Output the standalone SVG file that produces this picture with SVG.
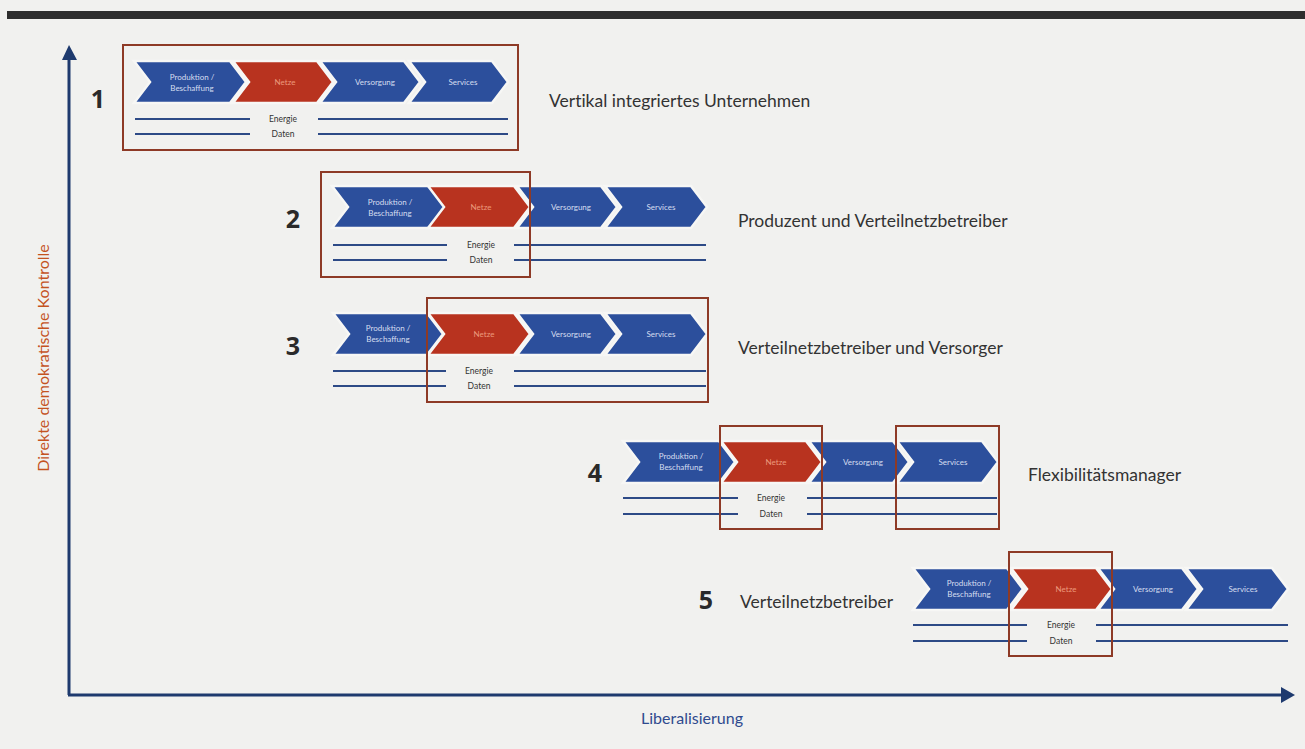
<svg xmlns="http://www.w3.org/2000/svg" width="1305" height="749" viewBox="0 0 1305 749">
<defs>
<style>
.bg{fill:#f1f1ef}
.cb{fill:#2c4f9c;stroke:#f7f7f5;stroke-width:2.5;stroke-linejoin:miter}
.cr{fill:#b8331f;stroke:#f7f7f5;stroke-width:2.5;stroke-linejoin:miter}
.ct{font-family:Lato,"Liberation Sans",sans-serif;font-size:8px;fill:#d6def0;text-anchor:middle}
.cn{font-family:Lato,"Liberation Sans",sans-serif;font-size:8px;fill:#ec9a7c;text-anchor:middle}
.ln{stroke:#2d4a86;stroke-width:2;fill:none}
.lt{font-family:Lato,"Liberation Sans",sans-serif;font-size:8.5px;fill:#333;text-anchor:middle}
.fr{fill:none;stroke:#8e3a26;stroke-width:2}
.num{font-family:"Open Sans","Liberation Sans",sans-serif;font-weight:bold;font-size:25px;fill:#2a2a2a;text-anchor:middle}
.ttl{font-family:Lato,"Liberation Sans",sans-serif;font-size:17.5px;fill:#333;font-variant-ligatures:none}
.ax{stroke:#1e3a6e;stroke-width:3;fill:none}
.axh{fill:#1e3a6e}
</style>
</defs>
<rect class="bg" x="0" y="0" width="1305" height="749"/>
<rect x="7" y="11" width="1298" height="8" fill="#2e2e2e"/>

<g id="axes">
<line class="ax" x1="69" y1="58" x2="69" y2="695"/>
<polygon class="axh" points="69,45 62,60 77,60"/>
<line class="ax" x1="68" y1="695" x2="1283" y2="695"/>
<polygon class="axh" points="1295,695 1281,687 1281,703"/>
<text x="49" y="358" transform="rotate(-90 49 358)" font-family="Lato,'Liberation Sans',sans-serif" font-size="16" fill="#c4531f" text-anchor="middle">Direkte demokratische Kontrolle</text>
<text x="692" y="724" font-family="Lato,'Liberation Sans',sans-serif" font-size="16" fill="#2f4a8e" text-anchor="middle">Liberalisierung</text>
</g>

<g id="row1">
<polygon class="cb" points="134,61 230,61 246,82 230,103 134,103 150,82"/>
<polygon class="cr" points="233,61 317,61 333,82 317,103 233,103 249,82"/>
<polygon class="cb" points="320,61 404,61 420,82 404,103 320,103 336,82"/>
<polygon class="cb" points="409,61 492,61 508,82 492,103 409,103 425,82"/>
<text class="ct" x="192" y="80">Produktion /</text>
<text class="ct" x="192" y="91">Beschaffung</text>
<text class="cn" x="285" y="85">Netze</text>
<text class="ct" x="375" y="85">Versorgung</text>
<text class="ct" x="463" y="85">Services</text>
<line class="ln" x1="135" y1="119" x2="250" y2="119"/>
<line class="ln" x1="318" y1="119" x2="508" y2="119"/>
<line class="ln" x1="135" y1="134" x2="250" y2="134"/>
<line class="ln" x1="318" y1="134" x2="508" y2="134"/>
<text class="lt" x="283" y="122">Energie</text>
<text class="lt" x="283" y="137">Daten</text>
<rect class="fr" x="123" y="45" width="395" height="105"/>
<text class="num" x="98" y="108">1</text>
<text class="ttl" x="549" y="107">Vertikal integriertes Unternehmen</text>
</g>

<g id="row2">
<polygon class="cb" points="332,186 430,186 446,207 430,228 332,228 348,207"/>
<polygon class="cr" points="428,186 514,186 530,207 514,228 428,228 444,207"/>
<polygon class="cb" points="517,186 601,186 617,207 601,228 517,228 533,207"/>
<polygon class="cb" points="605,186 691,186 707,207 691,228 605,228 621,207"/>
<text class="ct" x="390" y="205">Produktion /</text>
<text class="ct" x="390" y="216">Beschaffung</text>
<text class="cn" x="481" y="210">Netze</text>
<text class="ct" x="571" y="210">Versorgung</text>
<text class="ct" x="661" y="210">Services</text>
<line class="ln" x1="333" y1="245" x2="447" y2="245"/>
<line class="ln" x1="514" y1="245" x2="706" y2="245"/>
<line class="ln" x1="333" y1="260" x2="447" y2="260"/>
<line class="ln" x1="514" y1="260" x2="706" y2="260"/>
<text class="lt" x="481" y="248">Energie</text>
<text class="lt" x="481" y="263">Daten</text>
<rect class="fr" x="321" y="172" width="209" height="105"/>
<text class="num" x="293" y="228">2</text>
<text class="ttl" x="738" y="227">Produzent und Verteilnetzbetreiber</text>
</g>

<g id="row3">
<polygon class="cb" points="333,313 427,313 443,334 427,355 333,355 349,334"/>
<polygon class="cr" points="428,313 514,313 530,334 514,355 428,355 444,334"/>
<polygon class="cb" points="517,313 601,313 617,334 601,355 517,355 533,334"/>
<polygon class="cb" points="605,313 691,313 707,334 691,355 605,355 621,334"/>
<text class="ct" x="388" y="331">Produktion /</text>
<text class="ct" x="388" y="342">Beschaffung</text>
<text class="cn" x="484" y="337">Netze</text>
<text class="ct" x="571" y="337">Versorgung</text>
<text class="ct" x="661" y="337">Services</text>
<line class="ln" x1="333" y1="371" x2="446" y2="371"/>
<line class="ln" x1="514" y1="371" x2="706" y2="371"/>
<line class="ln" x1="333" y1="386" x2="446" y2="386"/>
<line class="ln" x1="514" y1="386" x2="706" y2="386"/>
<text class="lt" x="479" y="374">Energie</text>
<text class="lt" x="479" y="389">Daten</text>
<rect class="fr" x="427" y="298" width="281" height="104"/>
<text class="num" x="293" y="355">3</text>
<text class="ttl" x="738" y="354">Verteilnetzbetreiber und Versorger</text>
</g>

<g id="row4">
<polygon class="cb" points="623,441 719,441 735,462 719,483 623,483 639,462"/>
<polygon class="cr" points="721,441 806,441 822,462 806,483 721,483 737,462"/>
<polygon class="cb" points="809,441 893,441 909,462 893,483 809,483 825,462"/>
<polygon class="cb" points="897,441 982,441 998,462 982,483 897,483 913,462"/>
<text class="ct" x="681" y="459">Produktion /</text>
<text class="ct" x="681" y="470">Beschaffung</text>
<text class="cn" x="776" y="465">Netze</text>
<text class="ct" x="863" y="465">Versorgung</text>
<text class="ct" x="953" y="465">Services</text>
<line class="ln" x1="623" y1="498" x2="738" y2="498"/>
<line class="ln" x1="807" y1="498" x2="997" y2="498"/>
<line class="ln" x1="623" y1="514" x2="738" y2="514"/>
<line class="ln" x1="807" y1="514" x2="997" y2="514"/>
<text class="lt" x="771" y="501">Energie</text>
<text class="lt" x="771" y="517">Daten</text>
<rect class="fr" x="720" y="426" width="102" height="103"/>
<rect class="fr" x="896" y="426" width="103" height="103"/>
<text class="num" x="595" y="482">4</text>
<text class="ttl" x="1028" y="481">Flexibilitätsmanager</text>
</g>

<g id="row5">
<polygon class="cb" points="913,568 1007,568 1023,589 1007,610 913,610 929,589"/>
<polygon class="cr" points="1011,568 1096,568 1112,589 1096,610 1011,610 1027,589"/>
<polygon class="cb" points="1098,568 1182,568 1198,589 1182,610 1098,610 1114,589"/>
<polygon class="cb" points="1186,568 1272,568 1288,589 1272,610 1186,610 1202,589"/>
<text class="ct" x="969" y="586">Produktion /</text>
<text class="ct" x="969" y="597">Beschaffung</text>
<text class="cn" x="1066" y="592">Netze</text>
<text class="ct" x="1153" y="592">Versorgung</text>
<text class="ct" x="1243" y="592">Services</text>
<line class="ln" x1="913" y1="625" x2="1027" y2="625"/>
<line class="ln" x1="1096" y1="625" x2="1288" y2="625"/>
<line class="ln" x1="913" y1="641" x2="1027" y2="641"/>
<line class="ln" x1="1096" y1="641" x2="1288" y2="641"/>
<text class="lt" x="1061" y="628">Energie</text>
<text class="lt" x="1061" y="644">Daten</text>
<rect class="fr" x="1009" y="552" width="103" height="104"/>
<text class="num" x="706" y="609">5</text>
<text class="ttl" x="740" y="608">Verteilnetzbetreiber</text>
</g>
</svg>
